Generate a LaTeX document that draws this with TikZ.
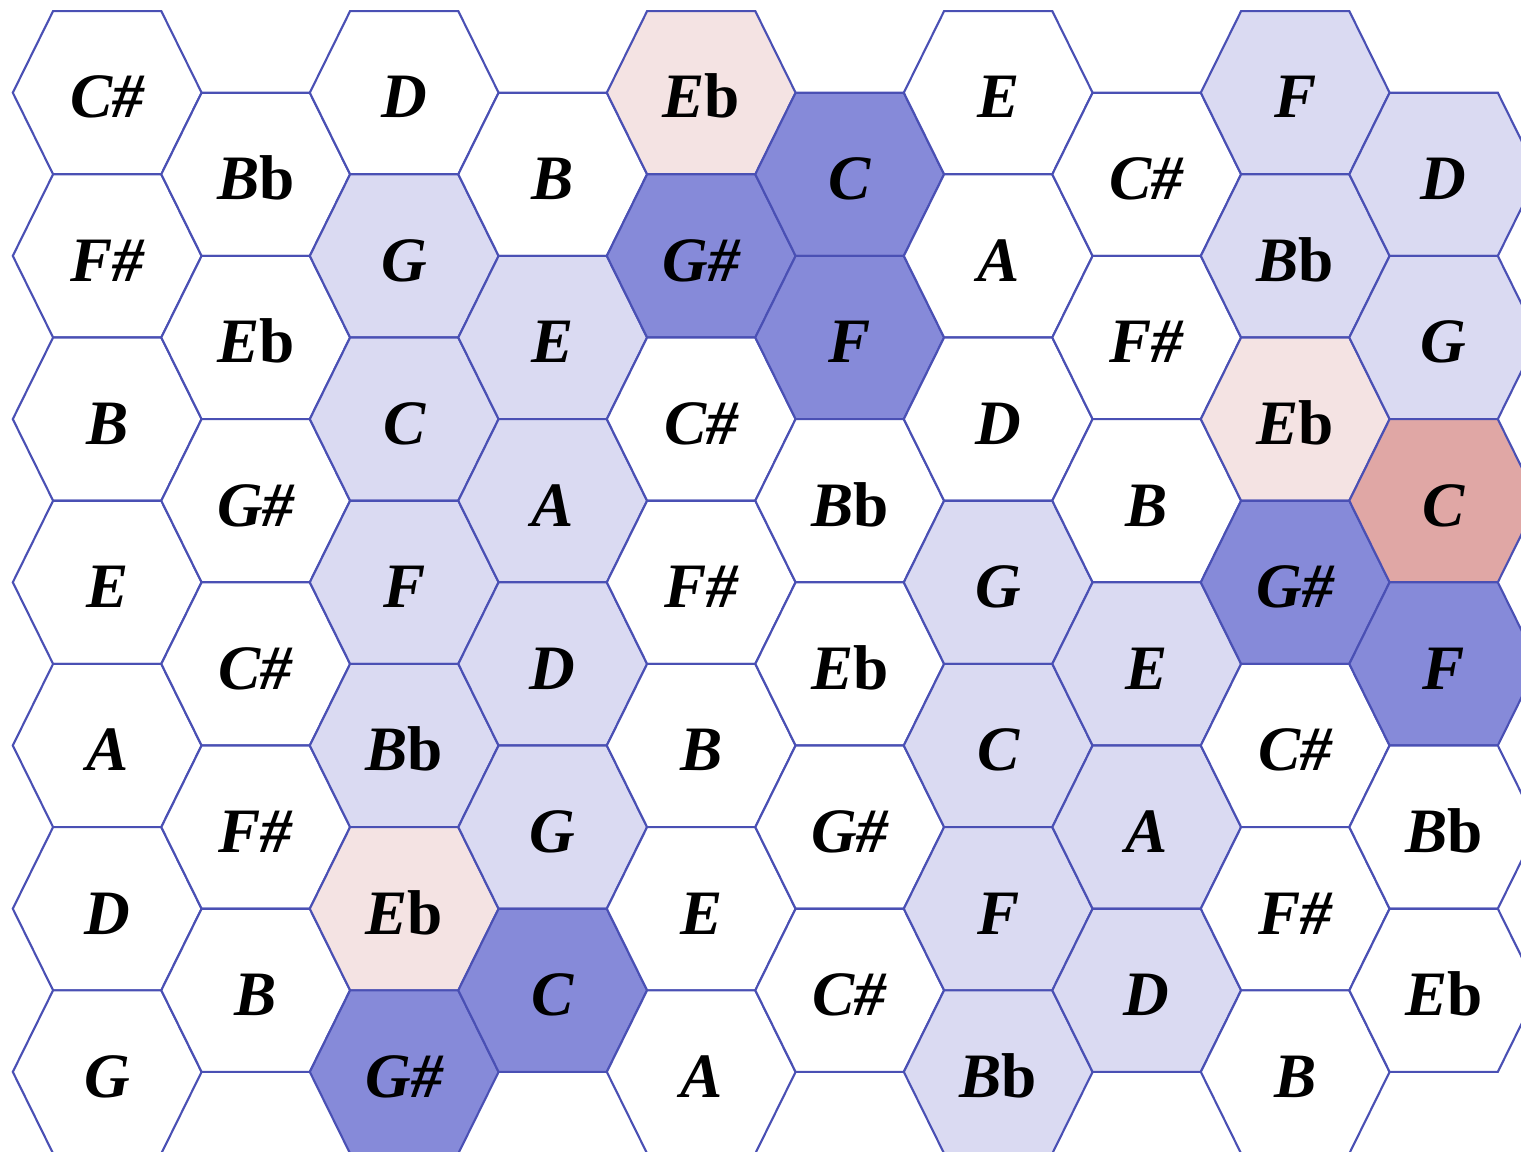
\documentclass[tikz,border=0pt]{standalone}
\usepackage{fontspec}
\setmainfont{Liberation Serif}
\usepackage{tikz}

\definecolor{hexline}{HTML}{4A50B4}
\definecolor{hexw}{HTML}{FFFFFF}
\definecolor{hexl}{HTML}{DADAF2}
\definecolor{hexm}{HTML}{868AD9}
\definecolor{hexp}{HTML}{F4E3E3}
\definecolor{hexr}{HTML}{E0A7A5}
\newcommand\flt{\textup{b}}

\begin{document}
\begin{tikzpicture}[hexcell/.style={draw=hexline, line width=0.6pt, line join=miter},
  notelabel/.style={anchor=base, inner sep=0pt, font=\fontsize{18}{20}\selectfont\bfseries\itshape}]
\useasboundingbox (0,0) rectangle (15.21,-11.52);
\clip (0,0) rectangle (15.21,-11.52);
\foreach \col/\cells in {
  0/{C\#/w,F\#/w,B/w,E/w,A/w,D/w,G/w},
  1/{B\flt/w,E\flt/w,G\#/w,C\#/w,F\#/w,B/w},
  2/{D/w,G/l,C/l,F/l,B\flt/l,E\flt/p,G\#/m},
  3/{B/w,E/l,A/l,D/l,G/l,C/m},
  4/{E\flt/p,G\#/m,C\#/w,F\#/w,B/w,E/w,A/w},
  5/{C/m,F/m,B\flt/w,E\flt/w,G\#/w,C\#/w},
  6/{E/w,A/w,D/w,G/l,C/l,F/l,B\flt/l},
  7/{C\#/w,F\#/w,B/w,E/l,A/l,D/l},
  8/{F/l,B\flt/l,E\flt/p,G\#/m,C\#/w,F\#/w,B/w},
  9/{D/l,G/l,C/r,F/m,B\flt/w,E\flt/w}}{
  \pgfmathsetmacro\yoff{mod(\col,2)*0.5}
  \foreach [count=\row from 0] \note/\c in \cells {
    \pgfmathsetmacro\x{1.072+\col*1.485}
    \pgfmathsetmacro\y{-0.927-(\row+\yoff)*1.632}
    % hexagon, flat top
    \draw[hexcell, fill=hex\c] (\x+0.944,\y) -- (\x+0.541,\y+0.816) -- (\x-0.541,\y+0.816)
      -- (\x-0.944,\y) -- (\x-0.541,\y-0.816) -- (\x+0.541,\y-0.816) -- cycle;
    \node[notelabel] (n\col-\row) at (\x,\y-0.253) {\note};
  }
}
\end{tikzpicture}
\end{document}
